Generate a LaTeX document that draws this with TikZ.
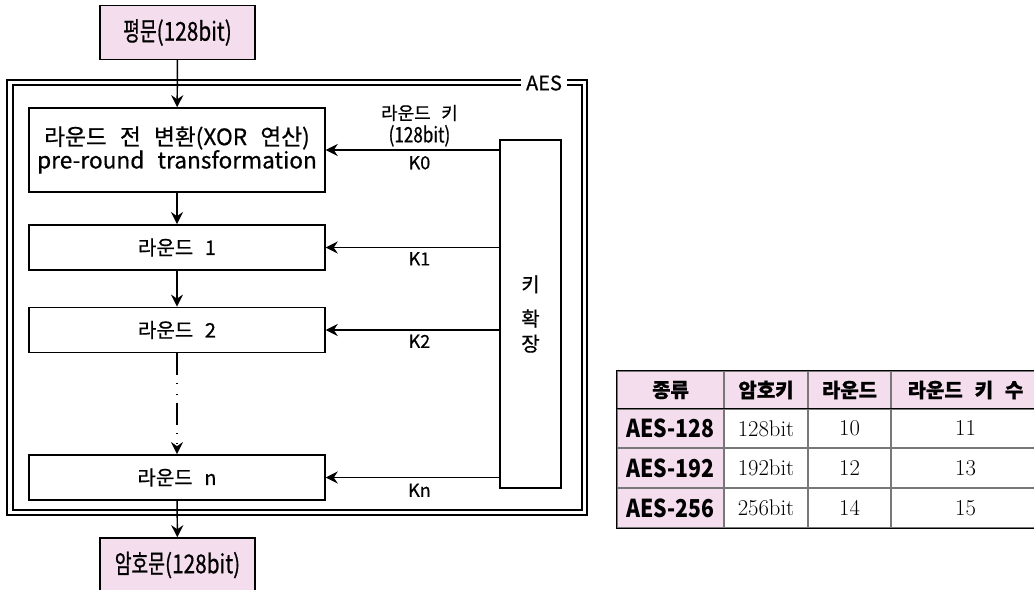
\documentclass[tikz,border=0pt]{standalone}
\usepackage{fontspec}
\setmainfont{Noto Sans CJK KR}[WordSpace=2.6, FakeBold=0.6]
\newfontfamily\condfont{Noto Sans CJK KR}[FakeStretch=0.8, FakeBold=0.6]
\newfontfamily\narrowfont{Noto Sans CJK KR}[FakeStretch=0.7, FakeBold=0.6]
\newfontfamily\tablefont{Noto Sans CJK KR}[FakeStretch=0.86]
\newfontfamily\numfont{Latin Modern Roman}
\usetikzlibrary{arrows.meta,positioning,calc}
\definecolor{pinkfill}{RGB}{244,222,237}
\definecolor{gridgray}{RGB}{120,120,120}

\begin{document}
\begin{tikzpicture}[x=0.75pt, y=-0.75pt,
    block/.style={draw, line width=1.1pt, rectangle, minimum width=222pt, minimum height=34pt, inner sep=0pt, font=\fontsize{15}{18}\selectfont},
    iobox/.style={block, fill=pinkfill, minimum width=116pt, minimum height=40.5pt, font=\fontsize{19.5}{21}\narrowfont},
    edge/.style={-{Stealth[length=9pt,width=9pt,inset=3pt]}, line width=1.1pt},
    klabel/.style={font=\fontsize{13.5}{17}\selectfont, inner sep=4pt},
    toplabel/.style={font=\fontsize{13.5}{17}\selectfont, inner sep=2pt, align=center},
    cell/.style={draw=gridgray, line width=0.8pt, inner sep=0pt, font=\fontsize{17}{19}\numfont},
    hcell/.style={cell, fill=pinkfill, font=\fontsize{15}{17}\selectfont\bfseries},
    ncell/.style={cell, fill=pinkfill, font=\fontsize{18.5}{20}\tablefont\bfseries},
    rowsep/.style={draw=gridgray, line width=1.4pt},
    tborder/.style={draw=black, line width=0.9pt},
]
\useasboundingbox (0,0) rectangle (1034,589);

% AES frame (double line)
\draw[line width=0.9pt] (7,80) rectangle (587,515);
\draw[line width=1.6pt] (13,85) rectangle (582,510);
\node[fill=white, inner xsep=4pt, inner ysep=1pt, font=\fontsize{15}{17}\selectfont] (aes) at (544,83) {AES};

% Plaintext / ciphertext
\node[iobox] (plain) at (177.5,32.5) {평문{\condfont(128bit)}};
\node[iobox] (cipher) at (177.5,565) {암호문{\condfont(128bit)}};

% Rounds
\node[block, minimum height=63pt, align=center, font=\fontsize{17}{17.5}\selectfont] (pre) at (177,150) {라운드 전 변환(XOR 연산)\\pre-round transformation};
\node[block] (r1) at (177,247.5) {라운드 1};
\node[block] (r2) at (177,330) {라운드 2};
\node[block] (rn) at (177,477.5) {라운드 n};

% Key expansion
\node[block, minimum width=45.75pt, minimum height=261pt, align=center, font=\fontsize{15}{18.75}\selectfont] (key) at (530.5,314) {키\\[7pt]확\\장};

% Data path
\draw[edge] (plain) -- (pre);
\draw[edge] (pre) -- (r1);
\draw[edge] (r1) -- (r2);
\draw[edge, dash pattern=on 16.5pt off 6pt on 0.8pt off 6.8pt on 0.8pt off 6pt] (r2) -- (rn);
\draw[edge] (rn) -- (cipher);

% Round keys
\draw[edge] (pre.east -| key.west) -- node[klabel, below, pos=0.46] {K0} node[toplabel, above, pos=0.46] {라운드 키\\{\fontsize{16}{17}\condfont(128bit)}} (pre.east);
\draw[edge] (r1.east -| key.west) -- node[klabel, below, pos=0.46, inner sep=3pt] {K1} (r1.east);
\draw[edge] (r2.east -| key.west) -- node[klabel, below, pos=0.46, inner sep=3pt] {K2} (r2.east);
\draw[edge] (rn.east -| key.west) -- node[klabel, below, pos=0.46] {Kn} (rn.east);

% Table
\node[hcell, minimum width=80.25pt, minimum height=28.5pt] (hd1) at (670.5,390) {종류};
\node[hcell, minimum width=63pt, minimum height=28.5pt] (hd2) at (766,390) {암호키};
\node[hcell, minimum width=62.25pt, minimum height=28.5pt] (hd3) at (849.5,390) {라운드};
\node[hcell, minimum width=111.75pt, minimum height=28.5pt] (hd4) at (965.5,390) {라운드 키 수};

\node[ncell, minimum width=80.25pt, minimum height=29.25pt] (a1) at (670.5,428.5) {AES-128};
\node[cell, minimum width=63pt, minimum height=29.25pt] (a2) at (766,428.5) {128bit};
\node[cell, minimum width=62.25pt, minimum height=29.25pt] (a3) at (849.5,428.5) {10};
\node[cell, minimum width=111.75pt, minimum height=29.25pt] (a4) at (965.5,428.5) {11};

\node[ncell, minimum width=80.25pt, minimum height=30pt] (b1) at (670.5,468) {AES-192};
\node[cell, minimum width=63pt, minimum height=30pt] (b2) at (766,468) {192bit};
\node[cell, minimum width=62.25pt, minimum height=30pt] (b3) at (849.5,468) {12};
\node[cell, minimum width=111.75pt, minimum height=30pt] (b4) at (965.5,468) {13};

\node[ncell, minimum width=80.25pt, minimum height=30pt] (c1) at (670.5,508) {AES-256};
\node[cell, minimum width=63pt, minimum height=30pt] (c2) at (766,508) {256bit};
\node[cell, minimum width=62.25pt, minimum height=30pt] (c3) at (849.5,508) {14};
\node[cell, minimum width=111.75pt, minimum height=30pt] (c4) at (965.5,508) {15};

\draw[rowsep] (b1.north west) -- (b4.north east);
\draw[rowsep] (c1.north west) -- (c4.north east);
\draw[tborder] (a1.north west) -- (a4.north east);
\draw[tborder] (hd1.north west) -- (hd4.north east);
\draw[tborder] (c1.south west) -- (c4.south east);
\draw[tborder] (hd1.north west) -- (c1.south west);

\end{tikzpicture}
\end{document}
